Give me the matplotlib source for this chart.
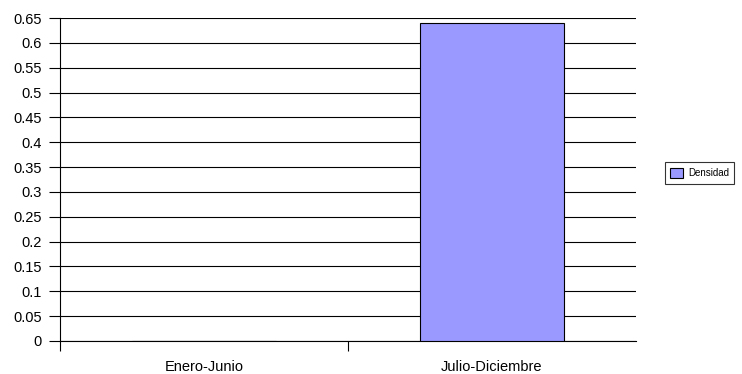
import matplotlib.pyplot as plt

periodos = ['Enero-Junio', 'Julio-Diciembre']
densidad = [0.001, 0.64]
yticks = [0, 0.05, 0.1, 0.15, 0.2, 0.25, 0.3, 0.35, 0.4, 0.45, 0.5, 0.55, 0.6, 0.65]

plt.rcParams['font.family'] = ['Liberation Sans', 'DejaVu Sans']
plt.rcParams['font.size'] = 10.5

fig = plt.figure(figsize=(7.42, 3.74), dpi=100)
# plot area in pixel coords: x 60..636, y 18..341
ax = fig.add_axes([60 / 742, 1 - 341 / 374, 576 / 742, 323 / 374])

x = range(len(periodos))
ax.bar(x, densidad, width=0.5, color='#9999FF', edgecolor='black',
       linewidth=0.8, label='Densidad', zorder=3)

ax.set_xlim(-0.5, 1.5)
ax.set_ylim(0, 0.65)
ax.set_yticks(yticks)
ax.set_yticklabels(['0' if v == 0 else f'{v:g}' for v in yticks])
ax.yaxis.grid(True, color='black', linewidth=0.8)
ax.set_axisbelow(True)

# category labels centred, ticks between categories
ax.set_xticks([-0.5, 0.5])
ax.set_xticklabels([])
ax.set_xticks(list(x), minor=True)
ax.set_xticklabels(periodos, minor=True)
ax.tick_params(axis='x', which='minor', length=0, pad=14)
ax.tick_params(axis='x', which='major', length=7, width=0.8, direction='out')
ax.tick_params(axis='y', length=8, width=0.8, direction='out', pad=5)

for s in ['top', 'right']:
    ax.spines[s].set_visible(False)
ax.spines['left'].set_linewidth(0.8)
ax.spines['bottom'].set_linewidth(0.8)

leg = fig.legend(loc='center left', bbox_to_anchor=(665 / 742, 1 - 173 / 374),
                 frameon=True, fancybox=False, edgecolor='black', fontsize=7,
                 handlelength=1.3, handleheight=1.3, handletextpad=0.5,
                 borderpad=0.55, borderaxespad=0)
leg.get_frame().set_linewidth(0.8)

fig.savefig('out.png', dpi=100)
